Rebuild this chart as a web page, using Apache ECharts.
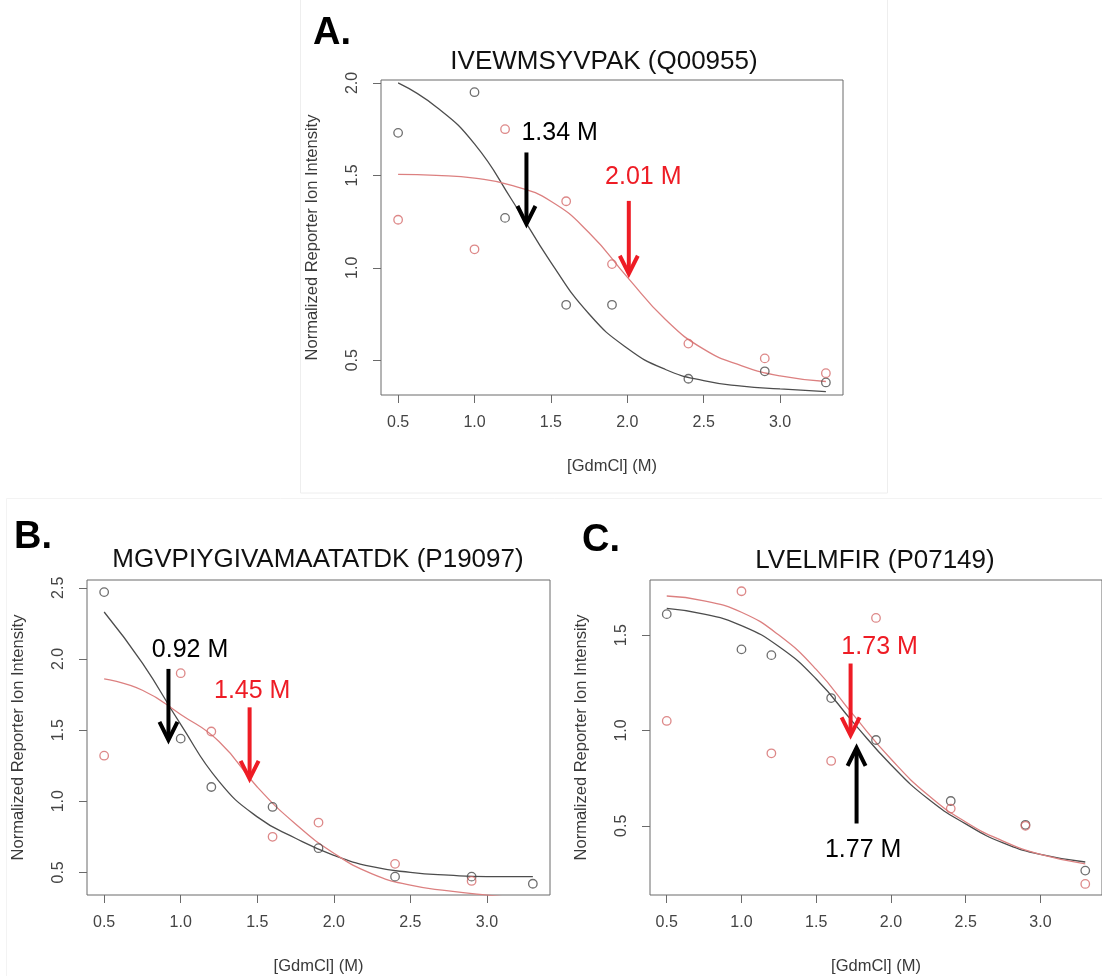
<!DOCTYPE html>
<html>
<head>
<meta charset="utf-8">
<script src="https://cdn.jsdelivr.net/npm/echarts@6/dist/echarts.min.js"></script>
<style>
  html, body { margin: 0; padding: 0; background: #ffffff; }
  #chart { width: 1102px; height: 976px; }
</style>
</head>
<body>
<div id="chart"></div>
<script>
// GdmCl concentrations of the measured channels (M)
const conc = [0.5, 1.0, 1.2, 1.6, 1.9, 2.4, 2.9, 3.3];
// Sample positions along the fitted denaturation curves (M)
const fitX = [0.5, 0.75, 1.0, 1.25, 1.5, 1.75, 2.0, 2.25, 2.5, 2.75, 3.0, 3.3];
const xTicks = [0.5, 1.0, 1.5, 2.0, 2.5, 3.0];

// A. IVEWMSYVPAK (Q00955)
const aTicksY = [0.5, 1.0, 1.5, 2.0];
const aBlackPts = [1.73, 1.95, 1.27, 0.80, 0.80, 0.40, 0.44, 0.38];
const aRedPts   = [1.26, 1.10, 1.75, 1.36, 1.02, 0.59, 0.51, 0.43];
const aBlackFit = [2.00, 1.87, 1.67, 1.36, 1.03, 0.75, 0.565, 0.45, 0.39, 0.36, 0.345, 0.33];
const aRedFit   = [1.505, 1.50, 1.485, 1.445, 1.36, 1.19, 0.95, 0.72, 0.56, 0.47, 0.415, 0.385];
const aMid = [1.34, 2.01];            // black, red midpoints (M)
const aArrowY = [[1.624, 1.237], [1.362, 0.968]];
const aLabelPos = [[1.557, 1.726], [2.105, 1.492]];

// B. MGVPIYGIVAMAATATDK (P19097)
const bTicksY = [0.5, 1.0, 1.5, 2.0, 2.5];
const bBlackPts = [2.47, 1.44, 1.10, 0.96, 0.67, 0.47, 0.47, 0.42];
const bRedPts   = [1.32, 1.90, 1.49, 0.75, 0.85, 0.56, 0.44, null];
const bBlackFit = [2.33, 1.97, 1.54, 1.14, 0.89, 0.74, 0.62, 0.54, 0.50, 0.48, 0.47, 0.47];
const bRedFit   = [1.86, 1.78, 1.61, 1.42, 1.10, 0.84, 0.635, 0.49, 0.41, 0.37, 0.34, 0.31];
const bMid = [0.92, 1.45];
const bArrowY = [[1.930, 1.431], [1.660, 1.157]];
const bLabelPos = [[1.061, 2.059], [1.467, 1.774]];

// C. LVELMFIR (P07149)
const cTicksY = [0.5, 1.0, 1.5];
const cBlackPts = [1.61, 1.425, 1.395, 1.17, 0.95, 0.63, 0.505, 0.265];
const cRedPts   = [1.05, 1.73, 0.88, 0.84, 1.59, 0.59, 0.50, 0.195];
const cBlackFit = [1.64, 1.61, 1.55, 1.44, 1.27, 1.04, 0.82, 0.64, 0.51, 0.41, 0.35, 0.31];
const cRedFit   = [1.705, 1.68, 1.62, 1.50, 1.32, 1.08, 0.85, 0.66, 0.52, 0.42, 0.35, 0.30];
const cMid = [1.77, 1.73];
const cArrowY = [[0.512, 0.909], [1.351, 0.974]];
const cLabelPos = [[1.814, 0.370], [1.924, 1.438]];

const FONT = '"Liberation Sans", Arial, Helvetica, sans-serif';
const BLACK_PT = '#4a4a4a', RED_PT = '#d46a6a';
const BLACK_LN = '#4d4d4d', RED_LN = '#dc8080';
const ANNOT = ['#000000', '#ee1c25'];
const BOX = '#6a6a6a';

const panels = [
  { grid: { left: 381, top: 80, width: 462, height: 315 }, ymin: 0.312, ymax: 2.016, yTicks: aTicksY,
    black: aBlackPts, red: aRedPts, blackFit: aBlackFit, redFit: aRedFit, mid: aMid, arrowY: aArrowY, labelPos: aLabelPos },
  { grid: { left: 87, top: 580, width: 463, height: 315 }, ymin: 0.341, ymax: 2.555, yTicks: bTicksY,
    black: bBlackPts, red: bRedPts, blackFit: bBlackFit, redFit: bRedFit, mid: bMid, arrowY: bArrowY, labelPos: bLabelPos },
  { grid: { left: 650, top: 580, width: 463, height: 315 }, ymin: 0.137, ymax: 1.789, yTicks: cTicksY,
    black: cBlackPts, red: cRedPts, blackFit: cBlackFit, redFit: cRedFit, mid: cMid, arrowY: cArrowY, labelPos: cLabelPos }
];

const pair = (xs, ys) => xs.map((x, i) => [x, ys[i]]);

const grids = [], xAxes = [], yAxes = [], series = [];
panels.forEach((p, k) => {
  grids.push(Object.assign({ show: true, borderColor: BOX, borderWidth: 1, backgroundColor: 'transparent' }, p.grid));
  xAxes.push({
    gridIndex: k, type: 'value', min: 0.388, max: 3.412,
    name: '[GdmCl] (M)', nameLocation: 'middle', nameGap: 63,
    nameTextStyle: { fontFamily: FONT, fontSize: 16.5, color: '#3a3a3a' },
    axisLine: { show: false },
    axisTick: { show: true, length: 8, customValues: xTicks, lineStyle: { color: BOX, width: 1 } },
    axisLabel: { customValues: xTicks, formatter: v => v.toFixed(1), margin: 20,
                 fontFamily: FONT, fontSize: 16, color: '#444' },
    splitLine: { show: false }
  });
  yAxes.push({
    gridIndex: k, type: 'value', min: p.ymin, max: p.ymax,
    name: 'Normalized Reporter Ion Intensity', nameLocation: 'middle', nameGap: 60,
    nameTextStyle: { fontFamily: FONT, fontSize: 16.5, color: '#3a3a3a' },
    axisLine: { show: false },
    axisTick: { show: true, length: 8, customValues: p.yTicks, lineStyle: { color: BOX, width: 1 } },
    axisLabel: { customValues: p.yTicks, formatter: v => v.toFixed(1), rotate: 90, margin: 20,
                 fontFamily: FONT, fontSize: 16, color: '#444' },
    splitLine: { show: false }
  });

  const common = { xAxisIndex: k, yAxisIndex: k };
  series.push(Object.assign({ type: 'line', data: pair(fitX, p.blackFit), showSymbol: false, smooth: 0.5,
    clip: true, lineStyle: { color: BLACK_LN, width: 1.3 }, silent: true, z: 2 }, common));
  series.push(Object.assign({ type: 'line', data: pair(fitX, p.redFit), showSymbol: false, smooth: 0.5,
    clip: true, lineStyle: { color: RED_LN, width: 1.3 }, silent: true, z: 2 }, common));
  series.push(Object.assign({ type: 'scatter', data: pair(conc, p.black).filter(d => d[1] != null),
    symbol: 'circle', symbolSize: 8.5, itemStyle: { color: 'transparent', borderColor: BLACK_PT, borderWidth: 1.3 }, z: 3 }, common));
  series.push(Object.assign({ type: 'scatter', data: pair(conc, p.red).filter(d => d[1] != null),
    symbol: 'circle', symbolSize: 8.5, itemStyle: { color: 'transparent', borderColor: RED_PT, borderWidth: 1.3 }, z: 3 }, common));

  // arrows pointing at the fitted midpoints: [midpoint, tail y, tip y, colour index]
  const arrowData = p.mid.map((m, i) => [m, p.arrowY[i][0], p.arrowY[i][1], i]);
  series.push(Object.assign({
    type: 'custom', data: arrowData, clip: false, z: 5, silent: true,
    renderItem: (params, api) => {
      const x = api.value(0), yTail = api.value(1), yTip = api.value(2);
      const color = ANNOT[api.value(3)];
      const a = api.coord([x, yTail]), b = api.coord([x, yTip]);
      const dir = b[1] > a[1] ? 1 : -1;
      const hl = 18, hw = 9;
      return { type: 'group', children: [
        { type: 'line', shape: { x1: a[0], y1: a[1], x2: b[0], y2: b[1] - dir * 2 },
          style: { stroke: color, lineWidth: 4 } },
        { type: 'polyline', shape: { points: [[b[0] - hw, b[1] - dir * hl], [b[0], b[1]], [b[0] + hw, b[1] - dir * hl]] },
          style: { stroke: color, lineWidth: 4, fill: null, lineJoin: 'miter' } }
      ] };
    }
  }, common));

  // midpoint labels
  const labelData = p.mid.map((m, i) => [p.labelPos[i][0], p.labelPos[i][1], i]);
  series.push(Object.assign({
    type: 'custom', data: labelData, clip: false, z: 6, silent: true,
    renderItem: (params, api) => {
      const i = api.value(2);
      const pt = api.coord([api.value(0), api.value(1)]);
      return { type: 'text', x: pt[0], y: pt[1],
        style: { text: p.mid[i].toFixed(2) + ' M', fill: ANNOT[i], fontFamily: FONT, fontSize: 25,
                 align: 'center', verticalAlign: 'middle' } };
    }
  }, common));
});

const titles = [
  { text: 'IVEWMSYVPAK (Q00955)', x: 604, y: 62 },
  { text: 'MGVPIYGIVAMAATATDK (P19097)', x: 318, y: 560 },
  { text: 'LVELMFIR (P07149)', x: 875, y: 561 }
];
const letters = [
  { text: 'A.', x: 313, y: 34 },
  { text: 'B.', x: 14, y: 538 },
  { text: 'C.', x: 582, y: 541 }
];

const graphic = [
  { type: 'rect', shape: { x: 300.5, y: -1, width: 587, height: 494 }, silent: true,
    style: { fill: 'none', stroke: '#eeeeee', lineWidth: 1 }, z: 0 },
  { type: 'rect', shape: { x: 6.5, y: 498.5, width: 1100, height: 480 }, silent: true,
    style: { fill: 'none', stroke: '#f3f3f3', lineWidth: 1 }, z: 0 }
].concat(titles.map(t => ({
  type: 'text', x: t.x, y: t.y, silent: true,
  style: { text: t.text, fill: '#111', fontFamily: FONT, fontSize: 26, textAlign: 'center', textVerticalAlign: 'middle' }
}))).concat(letters.map(t => ({
  type: 'text', x: t.x, y: t.y, silent: true,
  style: { text: t.text, fill: '#000', fontFamily: FONT, fontSize: 38, fontWeight: 'bold', textAlign: 'left', textVerticalAlign: 'middle' }
})));

const chart = echarts.init(document.getElementById('chart'), null, { renderer: 'canvas' });
chart.setOption({
  animation: false,
  backgroundColor: '#ffffff',
  grid: grids, xAxis: xAxes, yAxis: yAxes, series: series, graphic: graphic
});
</script>
</body>
</html>
